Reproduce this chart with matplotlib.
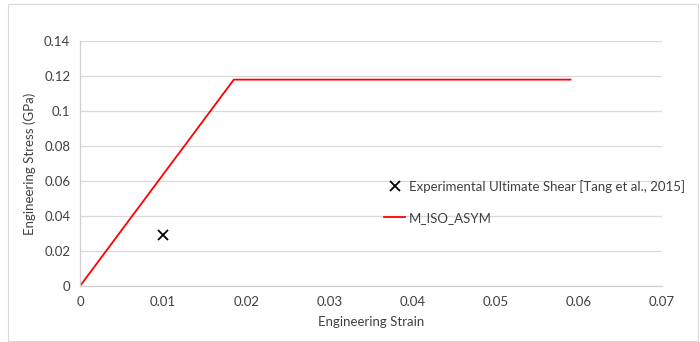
import matplotlib.pyplot as plt
from matplotlib.patches import Rectangle

# model curve (strain, stress in GPa)
model_strain = [0.0, 0.0185, 0.059]
model_stress = [0.0, 0.118, 0.118]

# experimental ultimate shear point
exp_strain = [0.01]
exp_stress = [0.029]

x_ticks = [0, 0.01, 0.02, 0.03, 0.04, 0.05, 0.06, 0.07]
y_ticks = [0, 0.02, 0.04, 0.06, 0.08, 0.1, 0.12, 0.14]
x_labels = ['0', '0.01', '0.02', '0.03', '0.04', '0.05', '0.06', '0.07']
y_labels = ['0', '0.02', '0.04', '0.06', '0.08', '0.1', '0.12', '0.14']

plt.rcParams['font.family'] = ['Lato', 'DejaVu Sans']
txt = '#404040'

fig = plt.figure(figsize=(7, 3.42), dpi=100)
fig.patches.append(Rectangle((0.012, 0.003), 0.985, 0.985, transform=fig.transFigure,
                             fill=False, edgecolor='#d9d9d9', linewidth=0.8))

ax = fig.add_axes([0.1143, 0.1637, 0.8314, 0.716])
ax.plot(exp_strain, exp_stress, linestyle='none', marker='x', color='black',
        markersize=7, markeredgewidth=1.3,
        label='Experimental Ultimate Shear [Tang et al., 2015]')
ax.plot(model_strain, model_stress, color='#ff0000', linewidth=1.3, label='M_ISO_ASYM')

ax.set_xlim(0, 0.07)
ax.set_ylim(0, 0.14)
ax.set_xticks(x_ticks)
ax.set_xticklabels(x_labels)
ax.set_yticks(y_ticks)
ax.set_yticklabels(y_labels)
ax.tick_params(length=0, labelsize=9.5, labelcolor=txt, pad=7)
ax.grid(axis='y', color='#d9d9d9', linewidth=0.9)
ax.set_axisbelow(True)
for side in ['top', 'right']:
    ax.spines[side].set_visible(False)
for side in ['left', 'bottom']:
    ax.spines[side].set_color('#d0d0d0')
    ax.spines[side].set_linewidth(0.9)

ax.set_xlabel('Engineering Strain', fontsize=9.5, color=txt, labelpad=6)
ax.set_ylabel('Engineering Stress (GPa)', fontsize=9.5, color=txt, labelpad=6)

ax.legend(loc='upper left', bbox_to_anchor=(0.502, 0.481), frameon=False,
          fontsize=9.5, labelcolor=txt, handlelength=1.6, handletextpad=0.3,
          labelspacing=1.4)

fig.savefig('out.png', dpi=100)
